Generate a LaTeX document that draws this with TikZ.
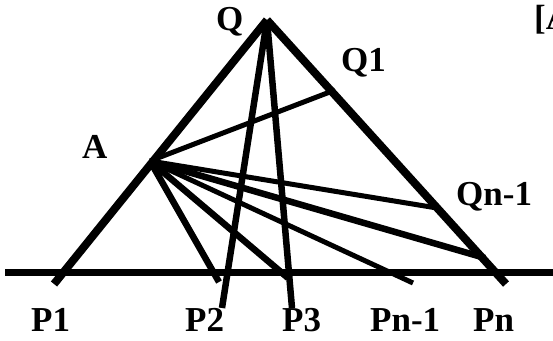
\documentclass[tikz,border=0pt]{standalone}
\usepackage{fontspec}
\setmainfont{Liberation Serif}
\begin{document}
\begin{tikzpicture}[x=1pt,y=-1pt,
  lbl/.style={anchor=base west,inner sep=0pt,font=\fontsize{35}{35}\selectfont\bfseries},
  thick line/.style={line width=8pt,line cap=butt},
  mid line/.style={line width=6.5pt,line cap=butt},
  thin line/.style={line width=5pt,line cap=butt}]
\useasboundingbox (0,0) rectangle (553,340);
% points
\coordinate (Q) at (267,20);
\coordinate (A) at (150,161);
\coordinate (Q1) at (335,90);
\coordinate (Qn1) at (437,208);
\coordinate (P1e) at (54,284);
\coordinate (Pne) at (506,284);
\coordinate (P2e) at (222,308);
\coordinate (P3e) at (292,308);
\coordinate (P2b) at (219,282);
\coordinate (P3b) at (288,278);
\coordinate (Pn1e) at (413,283);
\coordinate (Pnb) at (485,258);
\coordinate (L0) at (5,272.5);
\coordinate (L1) at (553,272.5);
% base line
\draw[line width=7.5pt] (L0) -- (L1);
% triangle sides
\draw[thick line] (P1e) -- (Q);
\draw[thick line] (Q) -- (Pne);
% lines from Q
\draw[mid line] (Q) -- (P2e);
\draw[mid line] (Q) -- (P3e);
% lines from A
\draw[thin line] (A) -- (Q1);
\draw[thin line] (A) -- (Qn1);
\draw[mid line] (A) -- (Pnb);
\draw[thin line] (A) -- (Pn1e);
\draw[mid line] (A) -- (P3b);
\draw[mid line] (A) -- (P2b);
% labels
\node[lbl] (lQ) at (216,30) {Q};
\node[lbl] (lQ1) at (341,71) {Q1};
\node[lbl] (lA) at (82,158) {A};
\node[lbl] (lQn1) at (456,205) {Qn-1};
\node[lbl] (lP1) at (31,331) {P1};
\node[lbl] (lP2) at (185,331) {P2};
\node[lbl] (lP3) at (282,331) {P3};
\node[lbl] (lPn1) at (370,331) {Pn-1};
\node[lbl] (lPn) at (473,331) {Pn};
\node[lbl] (lref) at (534,29) {[A};
\end{tikzpicture}
\end{document}
